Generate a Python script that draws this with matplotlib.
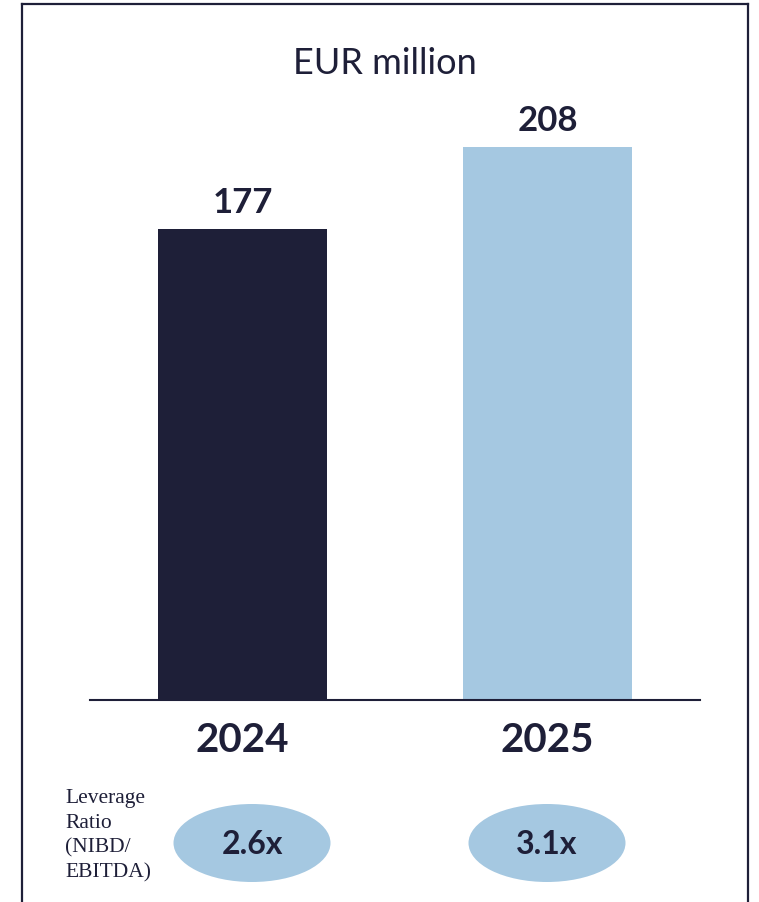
import matplotlib.pyplot as plt
from matplotlib.patches import Ellipse
from matplotlib.lines import Line2D

years = ['2024', '2025']
values = [177, 208]
leverage = ['2.6x', '3.1x']
colors = ['#1e1f38', '#a5c8e1']
dark = '#1e1f38'

W, H = 759, 902
fig = plt.figure(figsize=(W / 100, H / 100), dpi=100)

# bar axes: x 90..700 px, baseline at y=700 px (from top)
ax = fig.add_axes([90 / W, 1 - 700 / H, 610 / W, 680 / H])
xs = range(len(years))
ax.bar(xs, values, width=0.557, color=colors)
ax.set_xlim(-0.5, 1.5)
ax.set_ylim(0, 680 / 2.66)
for s in ['top', 'left', 'right']:
    ax.spines[s].set_visible(False)
ax.spines['bottom'].set_color(dark)
ax.spines['bottom'].set_linewidth(1.5)
ax.set_yticks([])
ax.set_xticks(list(xs))
ax.set_xticklabels(years, fontsize=29, fontweight='bold', color=dark, family='Lato')
ax.tick_params(axis='x', length=0, pad=16)

for x, v in zip(xs, values):
    ax.annotate(str(v), (x, v), xytext=(0, 7), textcoords='offset points',
                ha='center', va='bottom', fontsize=25, fontweight='bold',
                color=dark, family='Lato')

fig.text(385 / W, 1 - 63 / H, 'EUR million', ha='center', va='center',
         fontsize=26, color=dark, family='Lato')

# leverage row
ell_x = [252, 547]
for cx, lab in zip(ell_x, leverage):
    e = Ellipse((cx / W, 1 - 843 / H), 157 / W, 78 / H, transform=fig.transFigure,
                facecolor='#a5c8e1', edgecolor='none')
    fig.add_artist(e)
    fig.text(cx / W, 1 - 844 / H, lab, ha='center', va='center',
             fontsize=23, fontweight='bold', color=dark, family='Lato')

fig.text(65 / W, 1 - 836 / H, 'Leverage\nRatio\n(NIBD/\nEBITDA)', ha='left', va='center',
         fontsize=15.5, family='Liberation Serif', color=dark, linespacing=1.4)

# frame
lw = 1.6
fig.add_artist(Line2D([22 / W, 22 / W], [0, 1 - 4 / H], color=dark, lw=lw))
fig.add_artist(Line2D([748 / W, 748 / W], [0, 1 - 4 / H], color=dark, lw=lw))
fig.add_artist(Line2D([22 / W, 748 / W], [1 - 4 / H, 1 - 4 / H], color=dark, lw=lw))

fig.savefig('out.png', dpi=100)
